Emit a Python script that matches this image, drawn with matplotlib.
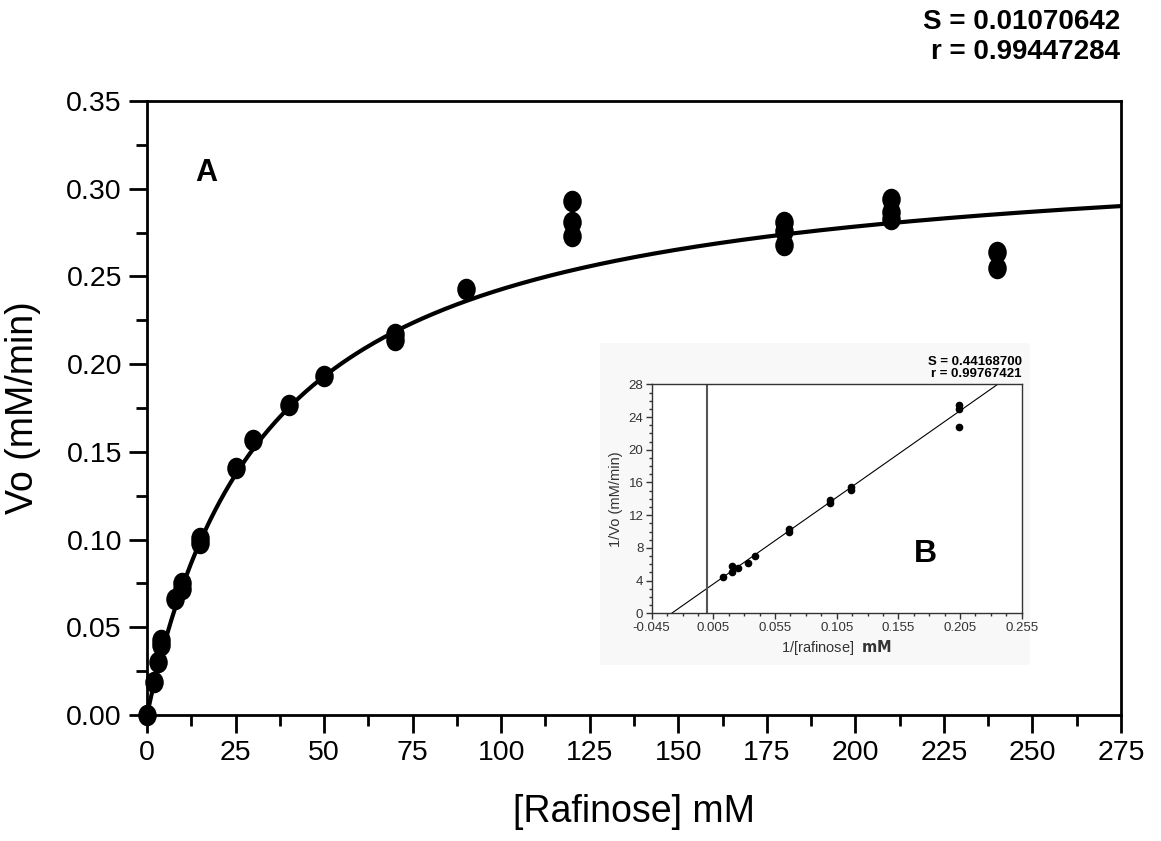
import matplotlib
matplotlib.use('Agg')
import matplotlib.pyplot as plt
import numpy as np
from matplotlib.path import Path
from matplotlib.transforms import Affine2D
from matplotlib.patches import Rectangle

plt.rcParams['font.family'] = ['Liberation Sans', 'DejaVu Sans']

# main panel A: substrate concentration vs initial velocity
raf = [0, 2, 3, 4, 4, 8, 10, 10, 15, 15, 25, 30, 40, 50, 70, 70, 90,
       120, 120, 120, 180, 180, 180, 210, 210, 210, 240, 240]
vo = [0.000, 0.019, 0.030, 0.040, 0.043, 0.066, 0.072, 0.075, 0.098, 0.101,
      0.141, 0.157, 0.177, 0.193, 0.214, 0.217, 0.243,
      0.293, 0.281, 0.273, 0.281, 0.276, 0.268, 0.294, 0.287, 0.283, 0.264, 0.255]
vmax = 0.3266
km = 34.6

# inset B: double reciprocal
inv_s = [0.013, 0.020, 0.020, 0.025, 0.033, 0.039, 0.066, 0.066, 0.0995, 0.0995,
         0.117, 0.117, 0.2045, 0.2045, 0.2045]
inv_v = [4.5, 5.0, 5.8, 5.6, 6.2, 7.05, 10.0, 10.3, 13.5, 13.8,
         15.1, 15.4, 25.0, 25.5, 22.8]
lb_slope = 105.9
lb_icpt = 3.06

fig = plt.figure(figsize=(11.61, 8.41), dpi=100)
ax = fig.add_axes([0.1266, 0.1498, 0.8389, 0.7301])

xs = np.linspace(0, 275, 400)
ax.plot(xs, vmax * xs / (km + xs), color='black', lw=3, zorder=2)

oval = Path.unit_circle().transformed(Affine2D().scale(0.85, 1.0))
ax.plot(raf, vo, ls='none', marker=oval, ms=14.5, color='black', zorder=3, clip_on=False)

ax.set_xlim(0, 275)
ax.set_ylim(0, 0.35)
ax.set_xticks(np.arange(0, 276, 25))
ax.set_xticks(np.arange(0, 276, 12.5), minor=True)
ax.set_yticks(np.arange(0, 0.351, 0.05))
ax.set_yticks(np.arange(0, 0.351, 0.025), minor=True)
ax.yaxis.set_major_formatter(matplotlib.ticker.FormatStrFormatter('%.2f'))
ax.tick_params(which='major', length=13, width=2, labelsize=20.5, direction='out', pad=5)
ax.tick_params(which='minor', length=8, width=2, direction='out')
for sp in ax.spines.values():
    sp.set_linewidth(2)
ax.set_xlabel('[Rafinose] mM', fontsize=27, labelpad=20)
ax.set_ylabel('Vo (mM/min)', fontsize=27, labelpad=18)
ax.text(16.7, 0.309, 'A', fontsize=22, fontweight='bold', ha='center', va='center')

fig.text(0.9647, 0.9742, 'S = 0.01070642', ha='right', va='center',
         fontsize=20, fontweight='bold')
fig.text(0.9647, 0.9385, 'r = 0.99447284', ha='right', va='center',
         fontsize=20, fontweight='bold')

# pasted inset background
fig.patches.append(Rectangle((600 / 1161, 1 - 665 / 841), 430 / 1161, 322 / 841,
                             transform=fig.transFigure, facecolor='#f8f8f8',
                             edgecolor='none', zorder=4))

ins = fig.add_axes([0.5613, 0.2707, 0.3187, 0.2723], zorder=5)
ins.set_facecolor('white')
lx = np.linspace(-0.045, 0.255, 50)
ins.plot(lx, lb_slope * lx + lb_icpt, color='black', lw=0.8)
ins.axvline(0, color='#555555', lw=1.5)
ins.plot(inv_s, inv_v, ls='none', marker='o', ms=4.5, color='black')
ins.set_xlim(-0.045, 0.255)
ins.set_ylim(0, 28)
ins.set_xticks(np.arange(-0.045, 0.2551, 0.05))
ins.set_xticks(np.arange(-0.045, 0.2551, 0.0125), minor=True)
ins.set_xticklabels(['-0.045', '0.005', '0.055', '0.105', '0.155', '0.205', '0.255'])
ins.set_yticks(np.arange(0, 28.1, 4))
ins.set_yticks(np.arange(0, 28.1, 1), minor=True)
ins.tick_params(which='major', length=4, width=1, labelsize=9.5, colors='#333333', pad=2)
ins.tick_params(which='minor', length=2, width=1, colors='#333333')
for sp in ins.spines.values():
    sp.set_linewidth(1)
    sp.set_color('#333333')
ins.set_xlabel('1/[rafinose]  $\\mathbf{mM}$', fontsize=10.5, color='#333333', labelpad=3)
ins.set_ylabel('1/Vo (mM/min)', fontsize=10.5, color='#333333', labelpad=4)
ins.text(0.177, 7.3, 'B', fontsize=23, fontweight='bold', ha='center', va='center')
ins.text(1.0, 1.02, 'S = 0.44168700\nr = 0.99767421', transform=ins.transAxes,
         ha='right', va='bottom', fontsize=9.5, fontweight='bold', linespacing=0.95)

fig.savefig('out.png', dpi=100)
